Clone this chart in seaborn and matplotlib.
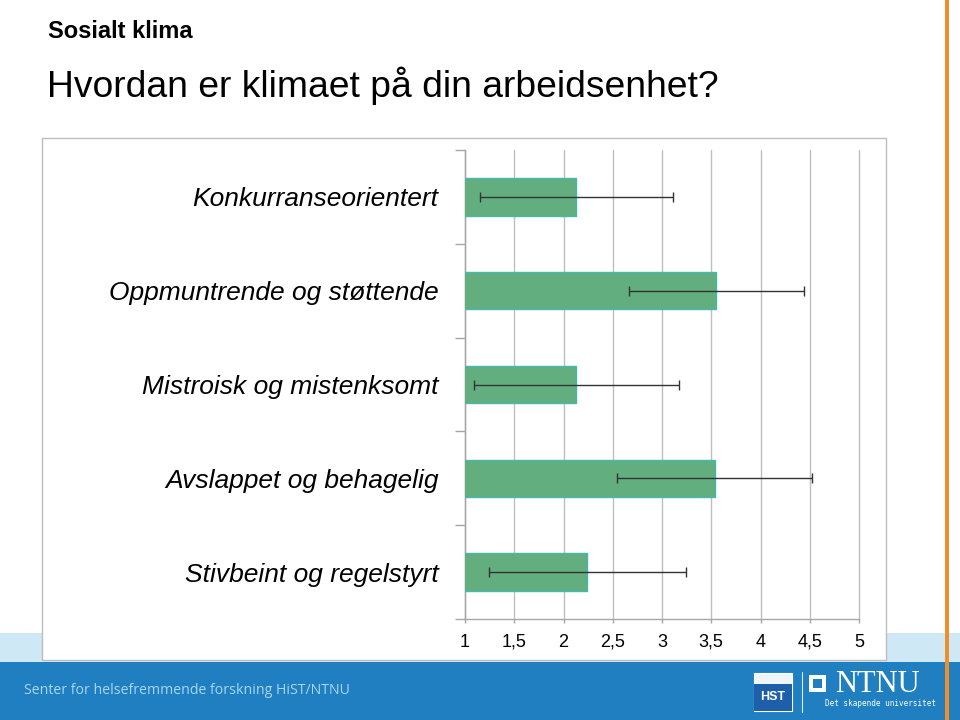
import matplotlib
matplotlib.use("Agg")
import matplotlib.pyplot as plt
import seaborn as sns
import pandas as pd
from matplotlib.patches import Rectangle
from matplotlib.lines import Line2D

categories = ["Konkurranseorientert", "Oppmuntrende og støttende",
              "Mistroisk og mistenksomt", "Avslappet og behagelig",
              "Stivbeint og regelstyrt"]
means = [2.13, 3.55, 2.13, 3.535, 2.24]
sds = [0.98, 0.89, 1.04, 0.99, 1.00]
xticks = [1, 1.5, 2, 2.5, 3, 3.5, 4, 4.5, 5]
xticklabels = ["1", "1,5", "2", "2,5", "3", "3,5", "4", "4,5", "5"]

sns.set_theme(style="white")
plt.rcParams['font.family'] = ['Liberation Sans', 'DejaVu Sans']

W, H = 960, 720
fig = plt.figure(figsize=(9.6, 7.2), dpi=100)

def fx(px):
    return px / W

def fy(py):
    return 1 - py / H

# background bands
fig.patches.append(Rectangle((0, fy(662)), 1, (662 - 633) / H, transform=fig.transFigure,
                             facecolor="#cfe8f6", edgecolor="none", zorder=0))
fig.patches.append(Rectangle((0, 0), 1, fy(662), transform=fig.transFigure,
                             facecolor="#1f7fc0", edgecolor="none", zorder=0))
# chart box
fig.patches.append(Rectangle((fx(42), fy(660)), fx(886 - 42), (660 - 138) / H,
                             transform=fig.transFigure, facecolor="white",
                             edgecolor="#bdbdbd", linewidth=1, zorder=1))
# orange line
fig.patches.append(Rectangle((fx(945), 0), fx(4), 1, transform=fig.transFigure,
                             facecolor="#ef8f2b", edgecolor="none", zorder=2))

# titles
fig.text(fx(48), fy(32), "Sosialt klima", fontsize=17, fontweight="bold",
         va="center", ha="left", color="black")
fig.text(fx(47), fy(86), "Hvordan er klimaet på din arbeidsenhet?", fontsize=26.8,
         va="center", ha="left", color="black")

# footer
fig.text(fx(24), fy(690), "Senter for helsefremmende forskning HiST/NTNU",
         fontsize=10.2, family=["Open Sans", "DejaVu Sans"], color="#a9d6f2",
         va="center", ha="left")
# HiST logo
fig.patches.append(Rectangle((fx(754), fy(711)), fx(38), (711 - 673) / H,
                             transform=fig.transFigure, facecolor="#eef5fb",
                             edgecolor="white", linewidth=0.8, zorder=3))
fig.patches.append(Rectangle((fx(754), fy(711)), fx(38), (711 - 684) / H,
                             transform=fig.transFigure, facecolor="#1d5fa8",
                             edgecolor="none", zorder=3))
fig.text(fx(773), fy(697), "HST", fontsize=9, fontweight="bold", color="white",
         ha="center", va="center", zorder=4)
fig.lines.append(Line2D([fx(802), fx(802)], [fy(712), fy(672)], transform=fig.transFigure,
                        color="#d8ecf8", linewidth=0.8, zorder=3))
# NTNU logo
fig.patches.append(Rectangle((fx(809), fy(692)), fx(17), 17 / H, transform=fig.transFigure,
                             facecolor="white", edgecolor="none", zorder=3))
fig.patches.append(Rectangle((fx(813), fy(688)), fx(9), 9 / H, transform=fig.transFigure,
                             facecolor="#1f7fc0", edgecolor="none", zorder=4))
fig.text(fx(877), fy(685), "NTNU", fontsize=22, family=["Liberation Serif", "DejaVu Serif"],
         color="white", ha="center", va="center", zorder=4)
fig.text(fx(936), fy(703), "Det skapende universitet", fontsize=5.5, color="white",
         ha="right", va="center", zorder=4, family=["DejaVu Sans Mono", "DejaVu Sans"])

# chart axes
ax = fig.add_axes([fx(465), fy(619), fx(859 - 465), (619 - 150) / H], zorder=5)
ax.set_facecolor("none")

df = pd.DataFrame({"kategori": categories, "snitt": means, "sd": sds})
sns.barplot(data=df, x="snitt", y="kategori", orient="h", color="#63ae7f",
            width=0.4, saturation=1, errorbar=None, ax=ax,
            edgecolor="#46b8b2", linewidth=1, zorder=3)
ax.errorbar(df["snitt"], range(len(categories)), xerr=df["sd"], fmt="none",
            ecolor="#333333", elinewidth=1, capsize=3.5, capthick=1, zorder=4)

ax.set_xlim(1, 5)
ax.set_ylim(len(categories) - 0.5, -0.5)
ax.set_xticks(xticks)
ax.set_xticklabels(xticklabels, fontsize=13, va="baseline")
ax.set_xlabel("")
ax.set_ylabel("")
ax.set_yticks(range(len(categories)))
ax.set_yticklabels(categories, fontsize=19, style="italic")
ax.set_yticks([i - 0.5 for i in range(len(categories) + 1)], minor=True)
ax.tick_params(axis="y", which="major", length=0, pad=19, labelcolor="black")
ax.tick_params(axis="y", which="minor", length=7, width=1, color="#a6a6a6", left=True,
               direction="out")
ax.tick_params(axis="x", which="major", length=3, width=1, color="#a6a6a6", pad=17,
               bottom=True, direction="out", labelcolor="black")
ax.grid(axis="x", color="#bfbfbf", linewidth=1, zorder=0)
for gl in ax.get_xgridlines():
    gl.set_clip_on(False)
ax.set_axisbelow(True)
for s in ["top", "right"]:
    ax.spines[s].set_visible(False)
for s in ["left", "bottom"]:
    ax.spines[s].set_color("#a6a6a6")
    ax.spines[s].set_linewidth(1)

fig.savefig("out.png", dpi=100)
